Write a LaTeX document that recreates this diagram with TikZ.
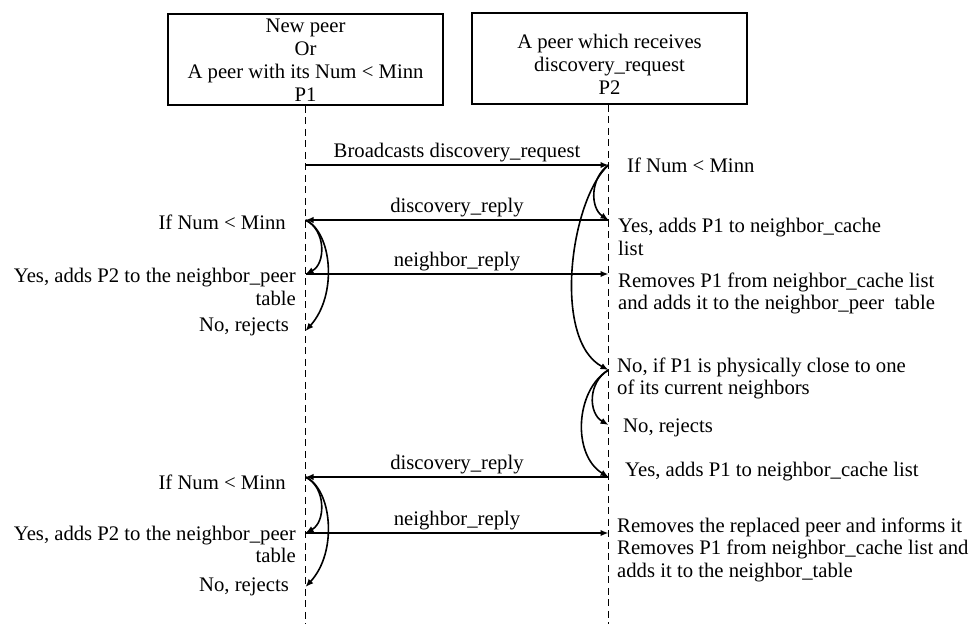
\documentclass[tikz,border=0pt]{standalone}
\usepackage{fontspec}
\setmainfont{Liberation Serif}
\usetikzlibrary{arrows.meta}

\begin{document}
\begin{tikzpicture}[x=1pt, y=-1pt,
  font=\fontsize{20.7}{22.5}\selectfont,
  peerbox/.style={draw, line width=1.7pt, minimum width=275pt, minimum height=91pt, inner sep=0pt},
  boxtext/.style={align=center, inner sep=0pt, font=\fontsize{20.7}{23}\selectfont},
  lifeline/.style={line width=1.7pt, dash pattern=on 7pt off 4.5pt},
  msg/.style={line width=1.7pt, -{Latex[length=8pt,width=6.5pt]}},
  turn/.style={line width=1.6pt, -{Latex[length=8pt,width=6.5pt]}},
  msglabel/.style={above, inner sep=2pt},
  rnote/.style={align=left, inner sep=0pt, anchor=west},
  lnote/.style={align=right, inner sep=0pt, anchor=east}]

\useasboundingbox (0,0) rectangle (972,624);

% peer boxes
\node[peerbox] (box1) at (305.5,59.5) {};
\node[boxtext] (txt1) at (305.5,60) {New peer\\Or\\A peer with its Num < Minn\\P1};
\node[peerbox] (box2) at (609.5,58.5) {};
\node[boxtext] (txt2) at (609.5,64) {A peer which receives\\discovery\_request\\P2};

% lifelines
\coordinate (end1) at (305.5,624);
\coordinate (end2) at (608.5,624);
\draw[lifeline] (box1.south) -- (end1);
\draw[lifeline] (box2.south -| end2) -- (end2);

% event points on P1
\coordinate (pA) at (305.5,165);
\coordinate (pB) at (305.5,220);
\coordinate (pC) at (305.5,274);
\coordinate (pD) at (305.5,331);
\coordinate (pF) at (305.5,477);
\coordinate (pG) at (305.5,533);
\coordinate (pH) at (305.5,587);
% event points on P2
\coordinate (qA) at (608.5,165);
\coordinate (qB) at (608.5,220);
\coordinate (qC) at (608.5,274);
\coordinate (qD) at (608.5,370);
\coordinate (qE) at (608.5,425);
\coordinate (qF) at (608.5,477);
\coordinate (qG) at (608.5,533);

% messages
\draw[msg] (pA) -- node[msglabel] {Broadcasts discovery\_request} (qA);
\draw[msg] (qB) -- node[msglabel] {discovery\_reply} (pB);
\draw[msg] (pC) -- node[msglabel] {neighbor\_reply} (qC);
\draw[msg] (qF) -- node[msglabel] {discovery\_reply} (pF);
\draw[msg] (pG) -- node[msglabel] {neighbor\_reply} (qG);

% decisions at P1
\draw[turn] (pB) .. controls (326,230) and (326,264) .. (pC);
\draw[turn] (pB) .. controls (332,232) and (338,295) .. (pD);
\draw[turn] (pF) .. controls (326,487) and (326,522) .. (pG);
\draw[turn] (pF) .. controls (332,489) and (338,552) .. (pH);

% decisions at P2
\draw[turn] (qA) .. controls (590,178) and (590,208) .. (qB);
\draw[turn] (qA) .. controls (570,200) and (552,340) .. (qD);
\draw[turn] (qD) .. controls (588,382) and (588,413) .. (qE);
\draw[turn] (qD) .. controls (575,390) and (572,455) .. (qF);

% notes beside P1
\node[lnote] (l1) at (286,222) {If Num < Minn};
\node[lnote] (l2) at (296,287) {Yes, adds P2 to the neighbor\_peer\\table};
\node[lnote] (l3) at (289,327) {No, rejects};
\node[lnote] (l4) at (286,482) {If Num < Minn};
\node[lnote] (l5) at (296,544.5) {Yes, adds P2 to the neighbor\_peer\\table};
\node[lnote] (l6) at (289,587) {No, rejects};

% notes beside P2
\node[rnote] (r1) at (627,165) {If Num < Minn};
\node[rnote] (r2) at (618,237) {Yes, adds P1 to neighbor\_cache\\list};
\node[rnote] (r3) at (618,293.5) {Removes P1 from neighbor\_cache list\\and adds it to the neighbor\_peer~~table};
\node[rnote] (r4) at (617,378.5) {No, if P1 is physically close to one\\of its current neighbors};
\node[rnote] (r5) at (623,428) {No, rejects};
\node[rnote] (r6) at (625,472) {Yes, adds P1 to neighbor\_cache list};
\node[rnote] (r7) at (617,549.5) {Removes the replaced peer and informs it\\Removes P1 from neighbor\_cache list and\\adds it to the neighbor\_table};

\end{tikzpicture}
\end{document}
